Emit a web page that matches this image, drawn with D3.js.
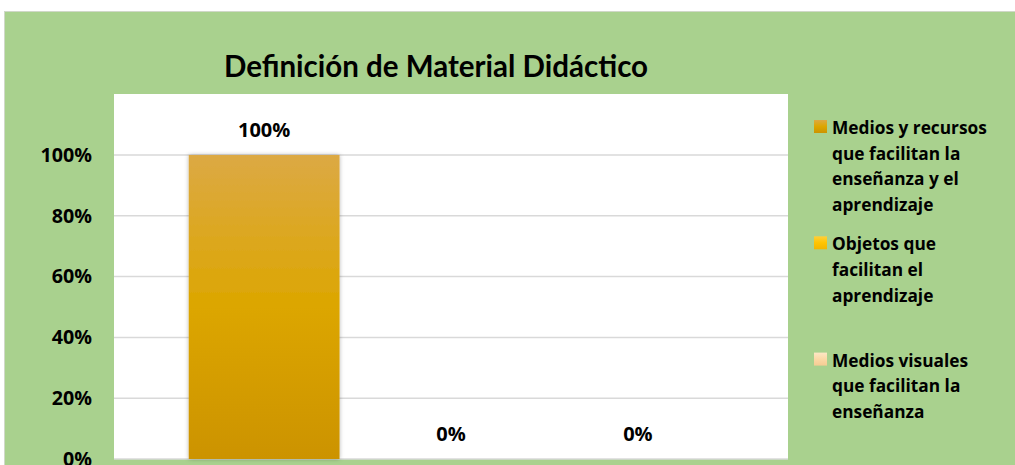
<!DOCTYPE html>
<html>
<head>
<meta charset="utf-8">
<script src="https://cdn.jsdelivr.net/npm/d3@7"></script>
<style>
  html, body { margin: 0; padding: 0; background: #fff; overflow: hidden; }
  text { font-family: "Open Sans", Lato, sans-serif; font-weight: 700; fill: #000; }
</style>
</head>
<body>
<div id="chart"></div>
<script>
// data
const chartTitle = "Definición de Material Didáctico";
const seriesNames = [
  "Medios y recursos que facilitan la enseñanza y el aprendizaje",
  "Objetos que facilitan el aprendizaje",
  "Medios visuales que facilitan la enseñanza"
];
const seriesValues = [1, 0, 0];
const legendLines = [
  ["Medios y recursos", "que facilitan la", "enseñanza y el", "aprendizaje"],
  ["Objetos que", "facilitan el", "aprendizaje"],
  ["Medios visuales", "que facilitan la", "enseñanza"]
];
const yTicks = [0, 0.2, 0.4, 0.6, 0.8, 1];

const width = 1015, height = 465;
const plot = { left: 114, right: 788, top: 94, bottom: 459 };

const svg = d3.select("#chart")
  .append("svg")
  .attr("width", width)
  .attr("height", height);

const defs = svg.append("defs");

// gradients for the series colours
const gradStops = [
  [["0%", "#dca944"], ["50%", "#dca600"], ["100%", "#cc9300"]],
  [["0%", "#ffcf3a"], ["50%", "#ffc400"], ["100%", "#f2b600"]],
  [["0%", "#fde7c5"], ["50%", "#fbd9a6"], ["100%", "#f6cc93"]]
];
gradStops.forEach((stops, i) => {
  const g = defs.append("linearGradient")
    .attr("id", "grad" + i)
    .attr("x1", 0).attr("y1", 0).attr("x2", 0).attr("y2", 1);
  stops.forEach(s => g.append("stop").attr("offset", s[0]).attr("stop-color", s[1]));
});

const shadow = defs.append("filter").attr("id", "shadow")
  .attr("x", "-10%").attr("y", "-5%").attr("width", "120%").attr("height", "110%");
shadow.append("feDropShadow")
  .attr("dx", 0).attr("dy", 0).attr("stdDeviation", 2)
  .attr("flood-color", "#000").attr("flood-opacity", 0.3);

// green chart background
svg.append("rect")
  .attr("x", 4.5).attr("y", 11.5)
  .attr("width", width).attr("height", height)
  .attr("fill", "#a9d18e")
  .attr("stroke", "#d0d8c8");

// white plot area
svg.append("rect")
  .attr("x", plot.left).attr("y", plot.top)
  .attr("width", plot.right - plot.left).attr("height", plot.bottom - plot.top)
  .attr("fill", "#fff");

// scales
const xScale = d3.scaleBand()
  .domain(seriesNames)
  .range([plot.left, plot.right])
  .paddingInner(0.193)
  .paddingOuter(0.4);

const yScale = d3.scaleLinear()
  .domain([0, 1])
  .range([plot.bottom, 155]);

// gridlines
svg.append("g")
  .selectAll("line")
  .data(yTicks)
  .enter()
  .append("line")
  .attr("x1", plot.left).attr("x2", plot.right)
  .attr("y1", d => yScale(d)).attr("y2", d => yScale(d))
  .attr("stroke", "#d9d9d9")
  .attr("stroke-width", 1.5);

// y axis (labels only)
const yAxis = svg.append("g")
  .attr("transform", `translate(${plot.left}, 0)`)
  .call(d3.axisLeft(yScale).tickValues(yTicks).tickFormat(d3.format(".0%")).tickSize(0).tickPadding(22));
yAxis.select(".domain").remove();
yAxis.selectAll("text")
  .style("font-family", "'Open Sans', sans-serif")
  .style("font-weight", 700)
  .style("font-size", "19.7px")
  .attr("fill", "#000");

// bars
svg.append("g")
  .selectAll("rect")
  .data(seriesValues)
  .enter()
  .append("rect")
  .attr("x", (d, i) => xScale(seriesNames[i]))
  .attr("y", d => yScale(d))
  .attr("width", xScale.bandwidth())
  .attr("height", d => yScale(0) - yScale(d))
  .attr("fill", (d, i) => `url(#grad${i})`)
  .attr("filter", "url(#shadow)");

// data labels
svg.append("g")
  .selectAll("text")
  .data(seriesValues)
  .enter()
  .append("text")
  .attr("x", (d, i) => xScale(seriesNames[i]) + xScale.bandwidth() / 2)
  .attr("y", d => yScale(d) - 18)
  .attr("text-anchor", "middle")
  .style("font-size", "20px")
  .text(d => d3.format(".0%")(d));

// title
svg.append("text")
  .attr("x", 436)
  .attr("y", 76.5)
  .attr("text-anchor", "middle")
  .style("font-family", "Lato, sans-serif")
  .style("font-size", "29.5px")
  .text(chartTitle);

// legend
const legendRow = svg.append("g")
  .selectAll("g")
  .data(legendLines)
  .enter()
  .append("g")
  .attr("transform", (d, i) => `translate(814, ${127 + i * 116.3})`);

legendRow.append("rect")
  .attr("x", 0).attr("y", -7)
  .attr("width", 13).attr("height", 13)
  .attr("fill", (d, i) => `url(#grad${i})`);

legendRow.append("text")
  .style("font-size", "17.3px")
  .selectAll("tspan")
  .data(d => d)
  .enter()
  .append("tspan")
  .attr("x", 18)
  .attr("y", (d, j) => j * 25.7 + 7)
  .text(d => d);
</script>
</body>
</html>
